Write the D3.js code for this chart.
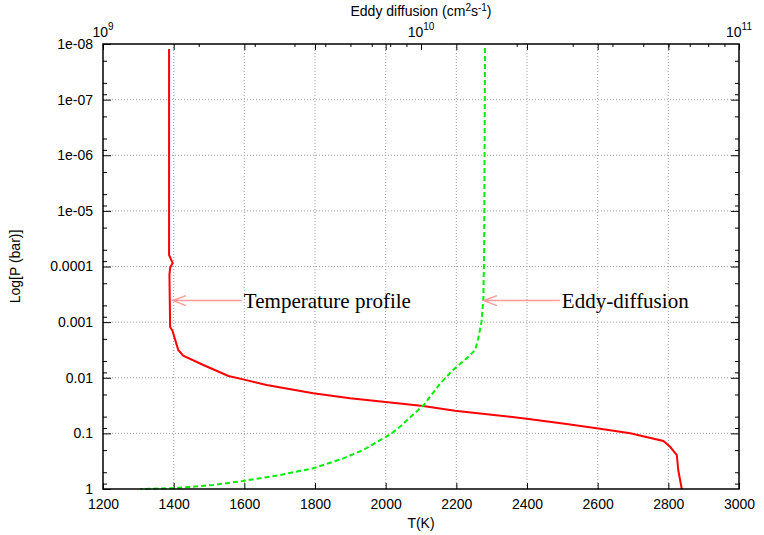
<!DOCTYPE html>
<html>
<head>
<meta charset="utf-8">
<script src="https://cdn.jsdelivr.net/npm/d3@7"></script>
<style>
body { margin: 0; background: #fff; }
text { font-family: "Liberation Sans", Arial, sans-serif; font-size: 14px; fill: #000; }
.ann { font-family: "Liberation Serif", "Times New Roman", serif; font-size: 21px; }
</style>
</head>
<body>
<svg id="chart" width="764" height="535"></svg>
<script>
// temperature profile: T (K) vs pressure (bar)
var tempT = [1387, 1387, 1397, 1390, 1388, 1390, 1397, 1413, 1427, 1484, 1555, 1597, 1663, 1795, 1899, 1993, 2106, 2196, 2399, 2512, 2597, 2692, 2786, 2805, 2824, 2828, 2838];
var tempP = [1.23e-8, 6.2e-5, 8.6e-5, 1.06e-4, 1.42e-4, 1.22e-3, 1.45e-3, 3.17e-3, 4.0e-3, 5.9e-3, 9.3e-3, 0.0107, 0.0135, 0.019, 0.0234, 0.027, 0.0322, 0.0391, 0.0544, 0.0678, 0.081, 0.0997, 0.137, 0.174, 0.245, 0.455, 1.0];

// eddy diffusion: Kzz (cm2 s-1) vs pressure (bar)
var eddyK = [1.59e10, 1.58e10, 1.57e10, 1.55e10, 1.51e10, 1.48e10, 1.41e10, 1.26e10, 1.15e10, 1.02e10, 8.59e9, 8.09e9, 6.59e9, 5.70e9, 4.58e9, 3.60e9, 2.76e9, 2.22e9, 1.66e9, 1.31e9];
var eddyP = [1.18e-8, 5.0e-5, 4.0e-4, 9.8e-4, 2.09e-3, 3.17e-3, 4.18e-3, 7.26e-3, 0.0126, 0.0309, 0.0759, 0.0998, 0.199, 0.281, 0.424, 0.56, 0.718, 0.847, 0.971, 1.0];

var tTicks = [1200, 1400, 1600, 1800, 2000, 2200, 2400, 2600, 2800, 3000];
var pTicks = [1e-8, 1e-7, 1e-6, 1e-5, 1e-4, 1e-3, 1e-2, 1e-1, 1];
var pLabels = ['1e-08', '1e-07', '1e-06', '1e-05', '0.0001', '0.001', '0.01', '0.1', '1'];
var kTicks = [1e9, 1e10, 1e11];
var kExp = ['9', '10', '11'];

var labelP = 4.1e-4;
var tempArrow = [1398, 1593];
var eddyArrow = [2278, 2493];

var pl = 103, pr = 739, pt = 44, pb = 489;
var w = pr - pl, h = pb - pt;

var svg = d3.select('#chart');

var x = d3.scaleLinear().domain([1200, 3000]).range([pl, pr]);
var x2 = d3.scaleLog().domain([1e9, 1e11]).range([pl, pr]);
var y = d3.scaleLog().domain([1e-8, 1]).range([pt, pb]);

// minor tick values
var kMinor = [];
[1e9, 1e10].forEach(function (d) {
    for (var m = 2; m <= 9; m++) kMinor.push(d * m);
});
var pMinor = [];
pTicks.slice(0, -1).forEach(function (d) {
    [2, 5, 8].forEach(function (m) { pMinor.push(d * m); });
});

// grid
var inner = tTicks.slice(1, -1);
var grid = svg.append('g');
grid.selectAll('line.v').data(inner).enter().append('line').attr('class', 'v')
    .attr('x1', function (d) { return x(d); }).attr('x2', function (d) { return x(d); })
    .attr('y1', pt).attr('y2', pb);
grid.selectAll('line.h').data(pTicks.slice(1, -1)).enter().append('line').attr('class', 'h')
    .attr('y1', function (d) { return y(d); }).attr('y2', function (d) { return y(d); })
    .attr('x1', pl).attr('x2', pr);
grid.selectAll('line').attr('stroke', '#a0a0a0').attr('stroke-width', 1).attr('stroke-dasharray', '1,2');

function tickStyle(g) {
    g.select('.domain').remove();
    g.selectAll('.tick line').attr('stroke', '#000').attr('stroke-width', 1);
}

// bottom axis
svg.append('g').attr('transform', 'translate(0,' + pb + ')')
    .call(d3.axisBottom(x).tickValues(tTicks).tickSize(-6).tickFormat(d3.format('d')))
    .call(tickStyle)
    .selectAll('text').style('font-size', '14px').attr('y', 10);

// mirrored T ticks on top
svg.append('g').attr('transform', 'translate(0,' + pt + ')')
    .call(d3.axisTop(x).tickValues(inner).tickSize(-6).tickFormat(''))
    .call(tickStyle);

// top log axis
svg.append('g').attr('transform', 'translate(0,' + pt + ')')
    .call(d3.axisTop(x2).tickValues(kTicks).tickSize(-6).tickFormat(''))
    .call(tickStyle);
svg.append('g').attr('transform', 'translate(0,' + pt + ')')
    .call(d3.axisTop(x2).tickValues(kMinor).tickSize(-3).tickFormat(''))
    .call(tickStyle);

var kl = svg.append('g').selectAll('text').data(kTicks).enter().append('text')
    .attr('x', function (d) { return x2(d); }).attr('y', 37).attr('text-anchor', 'middle');
kl.append('tspan').text('10');
kl.append('tspan').attr('dy', -7).style('font-size', '10px').text(function (d, i) { return kExp[i]; });

// left axis
svg.append('g').attr('transform', 'translate(' + pl + ',0)')
    .call(d3.axisLeft(y).tickValues(pTicks).tickSize(-8).tickPadding(10).tickFormat(function (d, i) { return pLabels[i]; }))
    .call(tickStyle)
    .selectAll('text').style('font-size', '14px');
svg.append('g').attr('transform', 'translate(' + pl + ',0)')
    .call(d3.axisLeft(y).tickValues(pMinor).tickSize(-4).tickFormat(''))
    .call(tickStyle);
// right mirror
svg.append('g').attr('transform', 'translate(' + pr + ',0)')
    .call(d3.axisRight(y).tickValues(pTicks.slice(1, -1)).tickSize(-8).tickFormat(''))
    .call(tickStyle);
svg.append('g').attr('transform', 'translate(' + pr + ',0)')
    .call(d3.axisRight(y).tickValues(pMinor).tickSize(-4).tickFormat(''))
    .call(tickStyle);

// curves
var tLine = d3.line().x(function (d) { return x(d[0]); }).y(function (d) { return y(d[1]); });
var kLine = d3.line().x(function (d) { return x2(d[0]); }).y(function (d) { return y(d[1]); });

svg.append('path').datum(d3.zip(tempT, tempP)).attr('d', tLine)
    .attr('fill', 'none').attr('stroke', '#ff0000').attr('stroke-width', 2);
svg.append('path').datum(d3.zip(eddyK, eddyP)).attr('d', kLine)
    .attr('fill', 'none').attr('stroke', '#00f000').attr('stroke-width', 2).attr('stroke-dasharray', '5,3');

// arrows and labels
function arrow(a, text) {
    var x0 = x(a[0]), x1 = x(a[1]), yy = y(labelP);
    svg.append('path')
        .attr('d', 'M' + x1 + ',' + yy + 'H' + x0 + 'M' + (x0 + 13) + ',' + (yy - 5) + 'L' + x0 + ',' + yy + 'L' + (x0 + 13) + ',' + (yy + 5))
        .attr('fill', 'none').attr('stroke', '#ff9a9a').attr('stroke-width', 1.5);
    svg.append('text').attr('class', 'ann').attr('x', x1 + 2).attr('y', yy + 7).text(text);
}
arrow(tempArrow, 'Temperature profile');
arrow(eddyArrow, 'Eddy-diffusion');

// border
svg.append('rect').attr('x', pl).attr('y', pt).attr('width', w).attr('height', h)
    .attr('fill', 'none').attr('stroke', '#000').attr('stroke-width', 1.5);

// axis titles
svg.append('text').attr('x', (pl + pr) / 2).attr('y', 528).attr('text-anchor', 'middle').text('T(K)');
svg.append('text').attr('transform', 'translate(20,' + (pt + h / 2) + ') rotate(-90)')
    .attr('text-anchor', 'middle').text('Log[P (bar)]');
var tt = svg.append('text').attr('x', (pl + pr) / 2).attr('y', 16).attr('text-anchor', 'middle');
tt.append('tspan').text('Eddy diffusion (cm');
tt.append('tspan').attr('dy', -5).style('font-size', '10px').text('2');
tt.append('tspan').attr('dy', 5).text('s');
tt.append('tspan').attr('dy', -5).style('font-size', '10px').text('-1');
tt.append('tspan').attr('dy', 5).text(')');
</script>
</body>
</html>
